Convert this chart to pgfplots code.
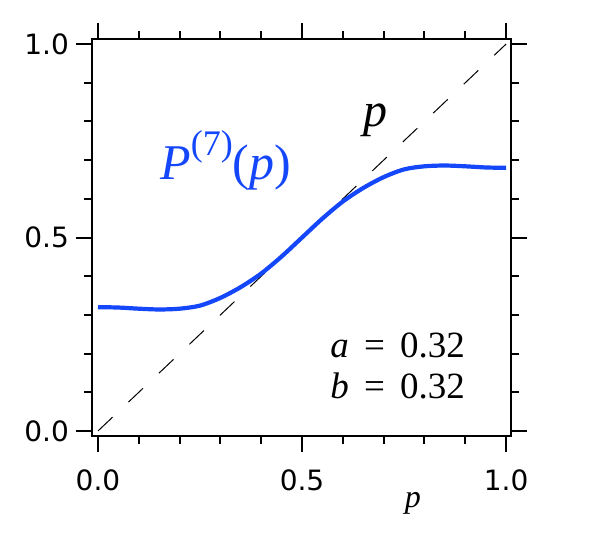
\documentclass[border=0pt]{standalone}
\usepackage{fontspec}
\setmainfont{Liberation Serif}
\newfontfamily\tickfont{DejaVu Sans}
\usepackage{pgfplots}
\pgfplotsset{compat=1.18}
\definecolor{curveblue}{RGB}{20,70,250}

\begin{document}
\begin{tikzpicture}
\begin{axis}[
  at={(46pt,53pt)}, anchor=south west,
  scale only axis, width=209.5pt, height=198.5pt,
  xmin=-0.0147, xmax=1.012, ymin=-0.013, ymax=1.013,
  xtick={0,0.5,1}, ytick={0,0.5,1},
  xticklabels={0.0,0.5,1.0}, yticklabels={0.0,0.5,1.0},
  minor tick num=4,
  tick align=outside,
  major tick length=8pt, minor tick length=4pt,
  axis line style={line width=1pt},
  every major tick/.append style={black, line width=1pt},
  every minor tick/.append style={black, line width=1pt},
  tick label style={font=\tickfont\fontsize{14}{16}\selectfont},
  xticklabel style={yshift=-5.5pt},
  clip=false,
  xlabel={\textit{p}},
  xlabel style={at={(0.766,-0.181)}, anchor=base, font=\fontsize{16}{18}\selectfont},
]
\addplot[black, line width=0.5pt, dash pattern=on 10pt off 11pt] coordinates {(0,0) (1,1)};
\addplot[curveblue, line width=2.1pt, smooth] coordinates {
(0.00,0.320) (0.05,0.319) (0.10,0.316) (0.15,0.314) (0.20,0.316)
(0.25,0.324) (0.30,0.344) (0.35,0.372) (0.40,0.407) (0.45,0.451)
(0.50,0.500) (0.55,0.549) (0.60,0.593) (0.65,0.628) (0.70,0.656)
(0.75,0.676) (0.80,0.684) (0.85,0.686) (0.90,0.684) (0.95,0.681) (1.00,0.680)};
\node[curveblue, anchor=base west, font=\fontsize{25}{30}\selectfont, inner sep=0pt]
  at (axis cs:0.152,0.649) {\textit{P}\raisebox{12pt}{\fontsize{18}{20}\selectfont (7)}(\textit{p})};
\node[anchor=base, font=\fontsize{24}{28}\selectfont, inner sep=0pt]
  at (axis cs:0.679,0.788) {\textit{p}};
\node[anchor=base east, font=\fontsize{18.5}{22}\selectfont, inner sep=0pt]
  at (axis cs:0.90,0.189) {\textit{a}\kern3pt{} = \kern3pt0.32};
\node[anchor=base east, font=\fontsize{18.5}{22}\selectfont, inner sep=0pt]
  at (axis cs:0.90,0.085) {\textit{b}\kern3pt{} = \kern3pt0.32};
\end{axis}
\pgfresetboundingbox
\path (0,0) rectangle (300pt,271pt);
\end{tikzpicture}
\end{document}
